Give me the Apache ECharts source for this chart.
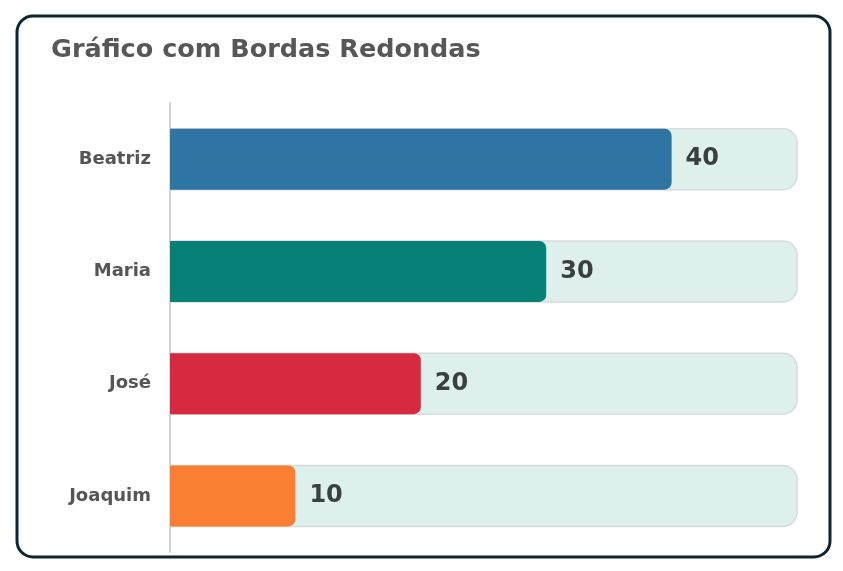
<!DOCTYPE html>
<html>
<head>
<meta charset="utf-8">
<script src="https://cdn.jsdelivr.net/npm/echarts@6/dist/echarts.min.js"></script>
<style>
  html, body { margin: 0; padding: 0; background: #fff; }
  #chart { width: 843px; height: 571px; }
</style>
</head>
<body>
<div id="chart"></div>
<script>
    // dados do gráfico
    var nomes = ['Beatriz', 'Maria', 'José', 'Joaquim'];
    var valores = [40, 30, 20, 10];
    var cores = ['#2e75a3', '#078077', '#d7293f', '#fb7f33'];
    var maximo = 50;

    var chart = echarts.init(document.getElementById('chart'));

    var dados = valores.map(function (v, i) {
        return { value: v, itemStyle: { color: cores[i] } };
    });

    var option = {
        animation: false,
        title: {
            text: 'Gráfico com Bordas Redondas',
            left: 46,
            top: 32,
            textStyle: {
                fontFamily: 'DejaVu Sans',
                fontSize: 25.5,
                fontWeight: 'bold',
                color: '#575757'
            }
        },
        graphic: [{
            type: 'rect',
            shape: { x: 17, y: 16, width: 813, height: 541, r: 16 },
            style: { fill: 'none', stroke: '#0c2631', lineWidth: 3 },
            z: 10
        }],
        grid: { left: 170, right: 46, top: 103, bottom: 19 },
        xAxis: {
            type: 'value',
            min: 0,
            max: maximo,
            show: false
        },
        yAxis: {
            type: 'category',
            data: nomes,
            inverse: true,
            axisLine: { show: true, lineStyle: { color: '#d2d2d2', width: 2 } },
            axisTick: { show: false },
            axisLabel: {
                margin: 19,
                fontFamily: 'DejaVu Sans',
                fontSize: 18,
                fontWeight: 'bold',
                color: '#555555'
            }
        },
        series: [{
            type: 'bar',
            data: dados,
            barWidth: 61,
            showBackground: true,
            backgroundStyle: {
                color: '#ddf0ec',
                borderColor: '#d6dcdb',
                borderWidth: 1.5,
                borderRadius: [0, 14, 14, 0]
            },
            itemStyle: { borderRadius: [0, 7, 7, 0] },
            label: {
                show: true,
                position: 'right',
                distance: 14,
                fontFamily: 'DejaVu Sans',
                fontSize: 24,
                fontWeight: 'bold',
                color: '#3a3f40'
            }
        }]
    };
    chart.setOption(option);
</script>
</body>
</html>
